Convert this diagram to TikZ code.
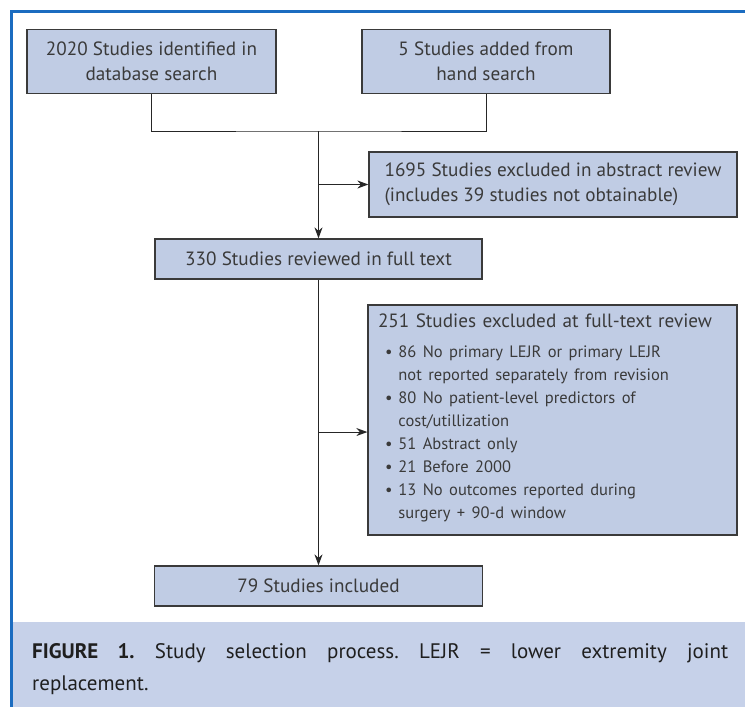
\documentclass[tikz,border=0pt]{standalone}
\usepackage{fontspec}
\setmainfont{PT Sans}
\usetikzlibrary{arrows.meta}
\definecolor{boxfill}{HTML}{C0CCE4}
\definecolor{capfill}{HTML}{C6D1E9}
\definecolor{frameblue}{HTML}{1B6CC0}
\definecolor{txt}{HTML}{3A3A3A}
\definecolor{edge}{HTML}{3A3A3A}
\frenchspacing
\begin{document}
\begin{tikzpicture}[x=1pt,y=-1pt,
  box/.style={draw=edge, line width=1.3pt, fill=boxfill, text=txt,
    font=\fontsize{19.2}{25}\selectfont, inner sep=0pt, align=center},
  conn/.style={line width=1pt, draw=black!85},
  arr/.style={conn, -{Stealth[length=11pt,width=8pt]}}]
\useasboundingbox (0,0) rectangle (745,707);
\fill[white] (0,0) rectangle (745,707);
\fill[capfill] (13,622) rectangle (745,707);
\draw[frameblue, line width=3pt] (11.5,707) -- (11.5,11.5) -- (745,11.5);

\node[box, minimum width=249pt, minimum height=64pt] (a) at (151.5,61.5)
  {2020 Studies identified in\\database search};
\node[box, minimum width=248pt, minimum height=64pt] (b) at (486,61.5)
  {5 Studies added from\\hand search};
\node[box, minimum width=368pt, minimum height=65pt, align=left] (d) at (553,184.5)
  {1695 Studies excluded in abstract review\\(includes 39 studies not obtainable)};
\node[box, minimum width=327pt, minimum height=40pt] (c) at (318.5,259)
  {330 Studies reviewed in full text};
\node[box, minimum width=369pt, minimum height=230pt, text width=349pt, align=left] (e) at (552.5,420)
  {251 Studies excluded at full-text review\\[5pt]
  {\fontsize{16.5}{23}\selectfont\hspace*{7pt}\begin{tabular}[t]{@{}l@{\hspace{6pt}}l@{}}
  \textbullet & 86 No primary LEJR or primary LEJR\\
   & not reported separately from revision\\
  \textbullet & 80 No patient-level predictors of\\
   & cost/utillization\\
  \textbullet & 51 Abstract only\\
  \textbullet & 21 Before 2000\\
  \textbullet & 13 No outcomes reported during\\
   & surgery + 90-d window
  \end{tabular}}};
\node[box, minimum width=328pt, minimum height=40pt] (f) at (318.5,586)
  {79 Studies included};

\node[anchor=north west, inner sep=0pt, text width=696pt, align=justify,
  font=\fontsize{21}{32}\selectfont, text=black!88] (cap) at (32,643)
  {{\bfseries FIGURE 1.} Study selection process. LEJR = lower extremity joint\linebreak replacement.};

\coordinate (j) at (c.north |- 0,131);
\path (e.south west) -- (e.north west) coordinate[pos=0.448] (ein);
\draw[conn] (a.south) |- (j) -| (b.south);
\draw[arr] (j) -- (c.north);
\draw[arr] (j |- d.west) -- (d.west);
\draw[arr] (c.south) -- (f.north);
\draw[arr] (c.south |- ein) -- (ein);
\end{tikzpicture}
\end{document}
